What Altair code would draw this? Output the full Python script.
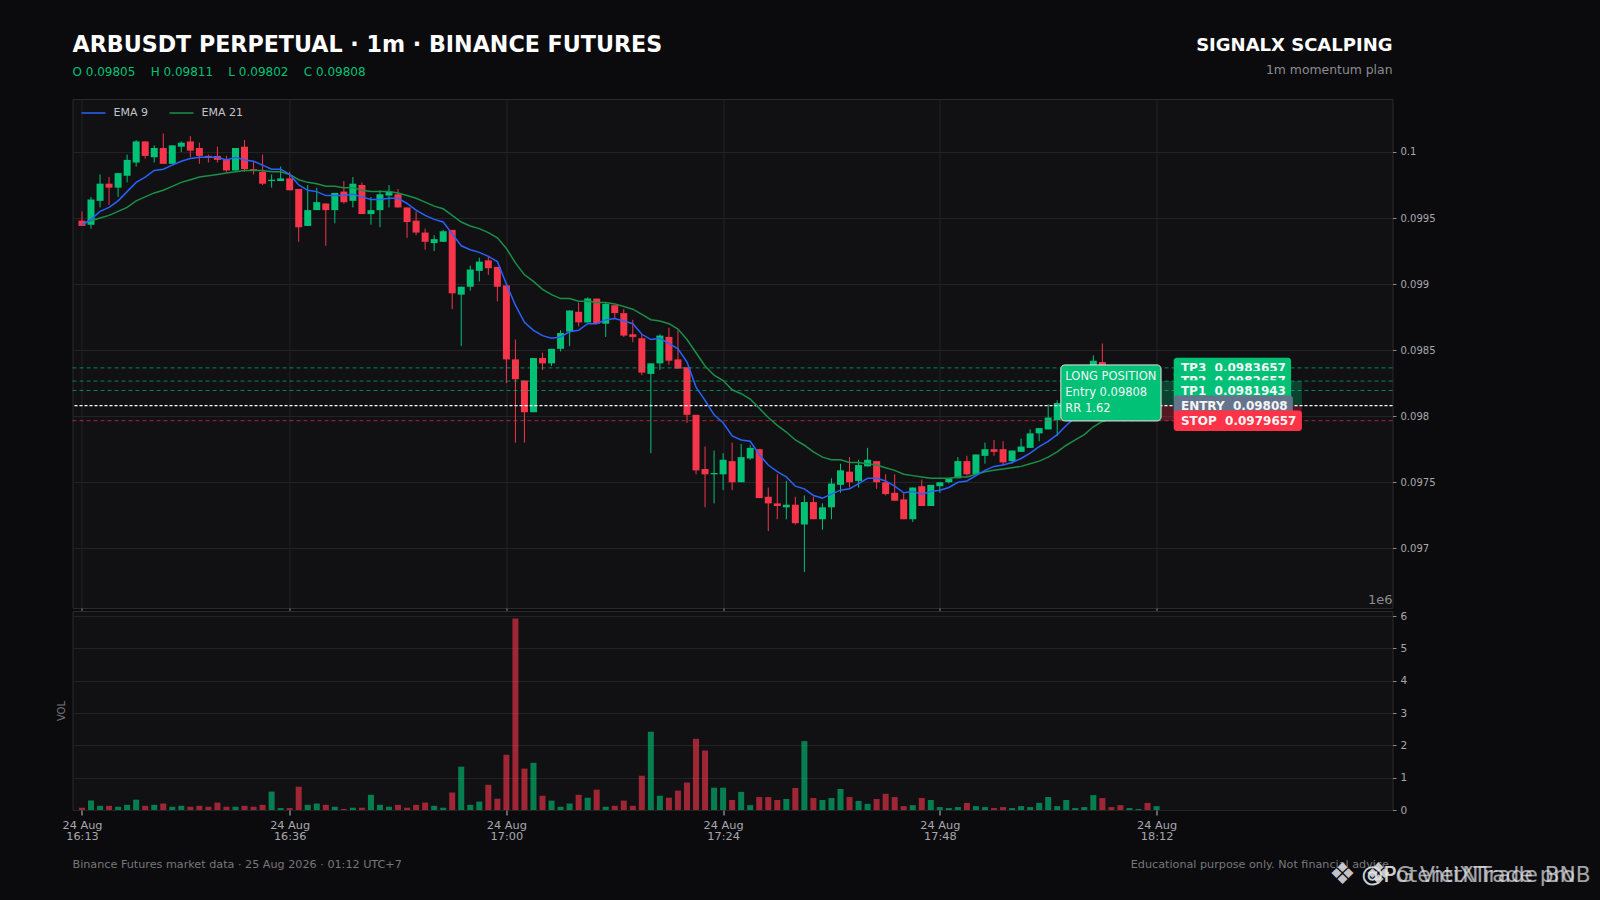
import altair as alt
import pandas as pd

# ---- values (prices in 1e-5 units) ----
OPENS = [9948,9945,9963,9976,9973,9982,9992,10008,9996,10003,9991,10004,10008,10003,9997,9997,9994,9986,10004,9987,
9985,9978,9978,9980,9972,9944,9956,9961,9956,9970,9963,9975,9953,9956,9967,9968,9958,9948,9939,9931,
9932,9941,9892,9898,9910,9918,9913,9899,9843,9827,9803,9844,9840,9851,9864,9879,9871,9889,9870,9884,
9878,9862,9859,9832,9840,9860,9843,9837,9801,9760,9756,9756,9766,9750,9768,9775,9739,9734,9731,9733,
9718,9735,9722,9731,9748,9758,9751,9762,9766,9750,9742,9737,9722,9747,9732,9747,9750,9753,9766,9756,
9770,9775,9775,9766,9773,9776,9787,9790,9797,9810,9816,9822,9830,9841,9830,9826,9820,9823,9824,9805]
HIGHS = [9955,9966,9983,9981,9984,9998,10009,10008,10005,10014,10005,10008,10012,10007,9998,10004,9997,10003,10009,9993,
9998,9983,9989,9985,9972,9975,9973,9961,9969,9978,9981,9977,9966,9971,9975,9972,9958,9955,9942,9937,
9941,9941,9898,9914,9920,9921,9913,9899,9858,9827,9844,9848,9851,9865,9880,9886,9890,9889,9886,9884,
9881,9873,9862,9840,9862,9867,9865,9837,9801,9777,9774,9772,9780,9779,9778,9775,9746,9756,9751,9739,
9740,9739,9734,9753,9764,9769,9767,9776,9766,9756,9756,9742,9746,9752,9748,9750,9753,9769,9770,9771,
9780,9782,9781,9774,9783,9790,9791,9809,9812,9818,9824,9832,9846,9855,9834,9829,9824,9825,9826,9811]
LOWS = [9944,9942,9958,9960,9966,9977,9989,9995,9992,9991,9991,10000,9996,9991,9992,9992,9985,9986,9985,9983,
9975,9973,9978,9971,9932,9944,9956,9929,9946,9961,9958,9953,9945,9943,9958,9958,9935,9937,9926,9925,
9932,9881,9853,9895,9902,9907,9887,9825,9780,9780,9803,9835,9838,9849,9853,9868,9871,9870,9860,9874,
9860,9856,9831,9772,9835,9839,9836,9795,9756,9731,9734,9744,9744,9750,9767,9738,9713,9722,9722,9718,
9682,9722,9714,9722,9742,9746,9746,9762,9745,9740,9736,9722,9720,9732,9732,9742,9749,9753,9755,9756,
9764,9770,9763,9764,9773,9776,9781,9790,9785,9806,9812,9820,9828,9826,9822,9818,9816,9815,9803,9802]
CLOSES = [9944,9964,9976,9973,9984,9994,10008,9997,10003,9991,10005,10007,10001,9997,9996,9994,9986,10003,9987,9986,
9976,9979,9980,9971,9943,9956,9962,9956,9969,9962,9976,9953,9956,9968,9970,9958,9947,9939,9932,9934,
9940,9893,9898,9911,9917,9912,9898,9843,9828,9803,9844,9840,9851,9863,9880,9871,9889,9870,9885,9878,
9861,9860,9833,9840,9861,9842,9836,9801,9759,9756,9757,9767,9750,9769,9776,9738,9734,9732,9733,9719,
9735,9722,9731,9749,9759,9750,9763,9767,9750,9741,9736,9722,9746,9732,9748,9750,9753,9766,9756,9771,
9775,9773,9765,9774,9777,9787,9791,9799,9810,9816,9822,9830,9842,9830,9826,9820,9823,9824,9805,9808]
VOLUMES = [.07,.29,.13,.13,.10,.16,.32,.13,.16,.2,.1,.13,.1,.13,.1,.23,.1,.1,.13,.1,.16,.57,.06,.06,.72,.16,.2,.16,.1,.03,
.07,.07,.47,.16,.1,.16,.07,.16,.23,.13,.07,.54,1.34,.16,.26,.78,.35,1.71,5.92,1.28,1.46,.44,.29,.1,.2,.47,.38,.63,.1,.13,
.29,.13,1.06,2.42,.44,.38,.6,.85,2.2,1.84,.69,.69,.31,.56,.15,.4,.4,.31,.34,.68,2.13,.37,.31,.37,.65,.4,.28,.19,.34,.5,
.4,.12,.15,.37,.31,.09,.06,.09,.22,.12,.09,.06,.09,.06,.12,.09,.22,.4,.12,.31,.06,.09,.46,.37,.09,.15,.06,.03,.22,.12]
EMA9 = [9945,9949,9955,9958,9963,9970,9977,9981,9986,9987,9990,9993,9995,9996,9996,9996,9994,9996,9994,9993,9990,9987,9987,9983,
9975,9971,9970,9967,9967,9967,9968,9966,9964,9964,9965,9965,9961,9956,9952,9949,9947,9938,9929,9926,9924,9921,9917,
9900,9884,9871,9865,9861,9859,9860,9864,9865,9870,9870,9873,9874,9872,9870,9862,9858,9859,9855,9851,9841,9822,9812,
9801,9795,9785,9782,9781,9771,9763,9758,9754,9747,9745,9740,9738,9741,9744,9745,9749,9753,9753,
9751,9747,9742,9743,9741,9743,9744,9746,9750,9751,9755,9759,9762,9763,9765,9768,9772,9777,9781,9786,
9793,9799,9806,9813,9815,9816,9816,9816,9817,9815,9813]
EMA21 = [9945,9948,9950,9952,9955,9958,9963,9966,9969,9971,9974,9977,9979,9981,9982,9983,9984,9985,9986,9986,9986,9985,9985,9983,
9979,9977,9976,9974,9974,9973,9973,9971,9970,9970,9970,9969,9967,9965,9962,9959,9957,9952,9947,9944,9942,9939,9935,9927,
9916,9907,9902,9896,9892,9889,9889,9887,9887,9886,9886,9885,9883,9881,9877,9873,9872,9870,9866,9858,9848,9838,9831,
9827,9820,9817,9813,9806,9799,9793,9788,9782,9778,9773,9769,9767,9767,9765,9765,9764,9763,
9761,9759,9756,9755,9754,9753,9753,9753,9754,9754,9756,9758,9759,9760,9761,9762,9764,9766,9769,9773,9778,9782,9786,9792,9796,
9798,9800,9801,9802,9802,9802]
TICK_INDEX = [0,23,47,71,95,119]
TICK_DATE = ["24 Aug"]*6
TICK_TIME = ["16:13","16:36","17:00","17:24","17:48","18:12"]
PRICE_TICKS = [0.097,0.0975,0.098,0.0985,0.099,0.0995,0.1]
LEVEL_NAMES = ["TP3","TP2","TP1","ENTRY","STOP"]
LEVEL_PRICES = [0.0983657,0.0982657,0.0981943,0.09808,0.0979657]
LEVEL_TEXT = ["0.0983657","0.0982657","0.0981943","0.09808","0.0979657"]
LEVEL_COLOR = ["#00c176","#00c176","#00c176","#ffffff","#ff3347"]
BOX_COLOR = ["#00c176","#00c176","#00c176","#64748b","#ff3347"]
BOX_RIGHT = [133.9,133.9,133.9,134.1,135.1]

UP, DOWN = "#00c176", "#f6344a"
FIG, PANEL, GRID = "#0b0b0e", "#111114", "#222327"
X_DOMAIN = [-1.05,145.13]
Y_DOMAIN = [0.096548,0.100401]

df = pd.DataFrame({"i":range(len(OPENS)),"o":OPENS,"h":HIGHS,"l":LOWS,"c":CLOSES,"v":VOLUMES,"e9":EMA9,"e21":EMA21})
for k in "ohlc":
    df[k] = df[k]/1e5
df["e9"] = df["e9"]/1e5
df["e21"] = df["e21"]/1e5
df["dir"] = ["up" if c>=o else "down" for o,c in zip(df.o,df.c)]
color = alt.Color("dir:N",scale=alt.Scale(domain=["up","down"],range=[UP,DOWN]),legend=None)

axis_top = alt.Axis(values=TICK_INDEX,labels=False,title=None,grid=True,gridColor=GRID,gridWidth=1,
                    ticks=True,tickColor="#8a8a8e",tickSize=3,domain=False)
x_top = alt.X("i:Q",scale=alt.Scale(domain=X_DOMAIN,nice=False,zero=False,padding=0),axis=axis_top)
y_price = alt.Y("l:Q",scale=alt.Scale(domain=Y_DOMAIN,nice=False,zero=False),
                axis=alt.Axis(orient="right",values=PRICE_TICKS,format=".4~f",title=None,grid=True,gridColor=GRID,
                              domain=False,tickColor="#8a8a8e",tickSize=3.5,labelColor="#a8a8ac",labelFontSize=10,labelPadding=4))

wicks = alt.Chart(df).mark_rule(strokeWidth=1).encode(x=x_top,y=y_price,y2="h:Q",color=color)
bodies = alt.Chart(df).mark_bar(size=7,cornerRadius=0).encode(x=x_top,y=alt.Y("o:Q",scale=alt.Scale(domain=Y_DOMAIN,nice=False,zero=False),title=None),y2="c:Q",color=color)
ema9 = alt.Chart(df).mark_line(color="#2962ff",strokeWidth=1.5).encode(x=x_top,y=alt.Y("e9:Q",title=None))
ema21 = alt.Chart(df).mark_line(color="#1a8f48",strokeWidth=1.5).encode(x=x_top,y=alt.Y("e21:Q",title=None))

zones = pd.DataFrame({"a":[119.0,119.0],"b":[135.1,135.1],"p1":[0.0982657,0.09808],"p2":[0.09808,0.0979657],"z":["#00c176","#ff3347"]})
zone_rect = alt.Chart(zones).mark_rect(opacity=0.28).encode(
    x=alt.X("a:Q",title=None),x2="b:Q",y=alt.Y("p1:Q",title=None),y2="p2:Q",color=alt.Color("z:N",scale=None))

lv = pd.DataFrame({"name":LEVEL_NAMES,"p":LEVEL_PRICES,"txt":LEVEL_TEXT,"col":LEVEL_COLOR,"box":BOX_COLOR,"r":BOX_RIGHT})
lv["lab"] = [n+"\u00a0\u00a0"+t for n,t in zip(lv.name,lv.txt)]
lv["top"] = lv.p+0.000077
lv["bot"] = lv.p-0.000077
lv["left"] = 120.9
lv["tx"] = 121.7

def level_lines():
    out = []
    for k in range(len(lv)):
        d = lv.iloc[[k]]
        white = d.name.iloc[0]=="ENTRY"
        out.append(alt.Chart(d).mark_rule(color=d.col.iloc[0],strokeWidth=1.2 if white else 1,
                   opacity=1 if white else 0.65,strokeDash=[3,2] if white else [4,3]).encode(y=alt.Y("p:Q",title=None)))
    return out

def level_tags():
    out = []
    for k in range(len(lv)):
        d = lv.iloc[[k]]
        out.append(alt.Chart(d).mark_rect(color=d.box.iloc[0],cornerRadius=3).encode(
            x=alt.X("left:Q",title=None),x2="r:Q",y=alt.Y("top:Q",title=None),y2="bot:Q"))
        out.append(alt.Chart(d).mark_text(color="#f4f4f6",fontWeight="bold",fontSize=12,align="left",baseline="middle").encode(
            x=alt.X("tx:Q",title=None),y=alt.Y("p:Q",title=None),text="lab:N"))
    return out

long_box = alt.Chart(pd.DataFrame({"a":[108.4],"b":[119.5],"p1":[0.098388],"p2":[0.097964]})).mark_rect(
    color=UP,stroke="#e6e6e6",strokeWidth=1,cornerRadius=4).encode(x=alt.X("a:Q",title=None),x2="b:Q",y=alt.Y("p1:Q",title=None),y2="p2:Q")
long_txt = alt.Chart(pd.DataFrame({"a":[108.9]*3,"p":[0.098299,0.098176,0.098054],"t":["LONG POSITION","Entry 0.09808","RR 1.62"]})).mark_text(
    color="#f4f4f6",fontSize=11.5,align="left",baseline="middle").encode(x=alt.X("a:Q",title=None),y=alt.Y("p:Q",title=None),text="t:N")

ONE = alt.Data(values=[{"a":1}])
def txt(s,x,y,**kw):
    return alt.Chart(ONE).mark_text(text=s,x=x,y=y,**kw)
def leg(x1,x2,y,c):
    return alt.Chart(ONE).mark_rule(color=c,strokeWidth=1.5).encode(x=alt.value(x1),x2=alt.value(x2),y=alt.value(y))

GAP = "\u00a0"*4
annots = [
    txt("ARBUSDT PERPETUAL · 1m · BINANCE FUTURES",0,-54.5,fontSize=22.2,fontWeight="bold",color="#ffffff",align="left",baseline="middle"),
    txt(GAP.join(["O 0.09805","H 0.09811","L 0.09802","C 0.09808"]),0,-27,fontSize=12,color=UP,align="left",baseline="middle"),
    txt("SIGNALX SCALPING",1320,-53.5,fontSize=18,fontWeight="bold",color="#ffffff",align="right",baseline="middle"),
    txt("1m momentum plan",1320,-29,fontSize=12.4,color="#8c8c90",align="right",baseline="middle"),
    txt("1e6",1320,501,fontSize=13,color="#8c8c90",align="right",baseline="middle"),
    leg(9,33,14,"#2962ff"),
    txt("EMA 9",41,14,fontSize=11,color="#c4c4c8",align="left",baseline="middle"),
    leg(97,121,14,"#1a8f48"),
    txt("EMA 21",129,14,fontSize=11,color="#c4c4c8",align="left",baseline="middle"),
]

top = alt.layer(zone_rect,wicks,bodies,*level_lines(),ema21,ema9,long_box,long_txt,*level_tags(),*annots).properties(
    width=1320,height=509,view=alt.ViewBackground(fill=PANEL,stroke="#2a2a2e"))

label_expr = "[" + ",".join("['%s','%s']"%(d,t) for d,t in zip(TICK_DATE,TICK_TIME)) + "][indexof(%s,datum.value)]"%str(TICK_INDEX)
axis_bot = alt.Axis(values=TICK_INDEX,labelExpr=label_expr,title=None,grid=False,tickColor="#c0c0c4",tickSize=5,domain=False,
                    labelColor="#a8a8ac",labelFontSize=11.3,labelPadding=4,labelOverlap=False,labelFlush=False,labelLineHeight=11.5)
x_vol = alt.X("i:Q",scale=alt.Scale(domain=X_DOMAIN,nice=False,zero=False,padding=0),axis=axis_bot)
y_vol = alt.Y("v:Q",scale=alt.Scale(domain=[0,6.155],nice=False,zero=False),
              axis=alt.Axis(orient="right",values=[0,1,2,3,4,5,6],title=None,grid=True,gridColor=GRID,domain=False,
                            tickColor="#8a8a8e",tickSize=3.5,labelColor="#a8a8ac",labelFontSize=10.5,labelPadding=4))
vol = alt.Chart(df).mark_bar(size=6,opacity=0.62).encode(x=x_vol,y=y_vol,color=color)

foot = [
    txt("VOL",-11,100,fontSize=10,color="#77777b",angle=270,align="center",baseline="middle"),
    txt("Binance Futures market data · 25 Aug 2026 · 01:12 UTC+7",0,253.5,fontSize=11.2,color="#77777b",align="left",baseline="middle"),
    txt("Educational purpose only. Not financial advice.",1320,253.5,fontSize=11.2,color="#77777b",align="right",baseline="middle"),
    txt("❖",1270,264,fontSize=30,color="#d8d8dc",opacity=0.9,align="center",baseline="middle"),
    txt("❖",1306,264,fontSize=30,color="#d8d8dc",opacity=0.9,align="center",baseline="middle"),
    txt("@PG VietNTrade BNB",1289,264,fontSize=21.7,color="#e4e4e8",opacity=0.7,align="left",baseline="middle"),
    txt("@PotentiXTrade pro",1289,264,fontSize=21.7,color="#e4e4e8",opacity=0.7,align="left",baseline="middle"),
]
bottom = alt.layer(vol,*foot).properties(width=1320,height=199,view=alt.ViewBackground(fill=PANEL,stroke="#2a2a2e"))

chart = alt.vconcat(top,bottom,spacing=3,bounds="flush").properties(
    background=FIG,padding={"left":47.5,"top":25,"right":0,"bottom":0}
).configure(font="DejaVu Sans")

chart.save("out.html", embed_options={"renderer": "svg", "actions": False, "defaultStyle": "body{background:#0b0b0e;}"})
